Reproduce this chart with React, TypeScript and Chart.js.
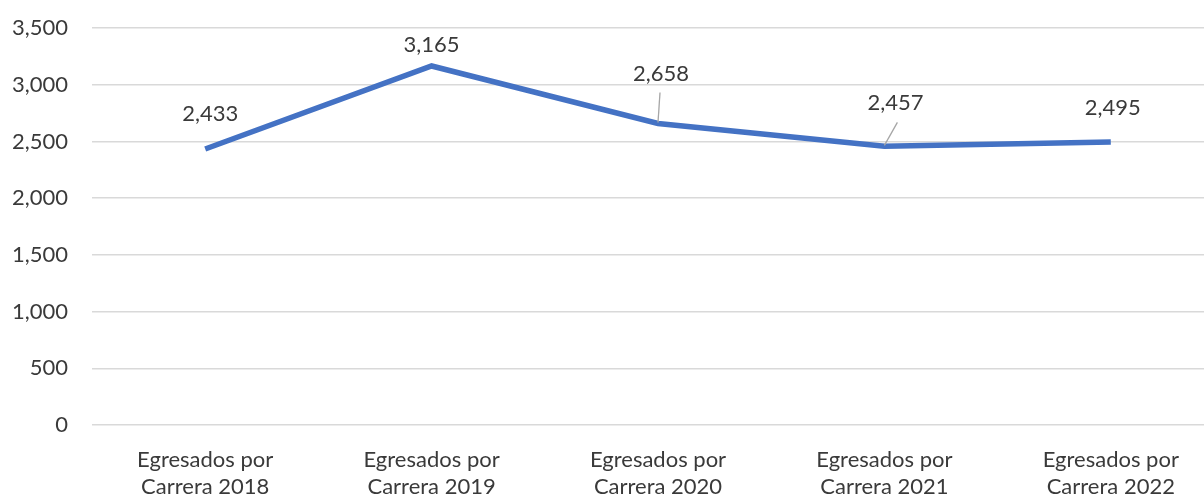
import React, { useEffect, useRef } from "react";
import { Chart, registerables } from "chart.js";

Chart.register(...registerables);

const categories: string[][] = [
  ["Egresados por", "Carrera 2018"],
  ["Egresados por", "Carrera 2019"],
  ["Egresados por", "Carrera 2020"],
  ["Egresados por", "Carrera 2021"],
  ["Egresados por", "Carrera 2022"],
];
const values: number[] = [2433, 3165, 2658, 2457, 2495];
const yTicks: number[] = [0, 500, 1000, 1500, 2000, 2500, 3000, 3500];

// label placement offsets (px) relative to the point, and whether to draw a leader line
const labelDx: number[] = [5, 0, 3, 11, 2];
const labelDy: number[] = [-35, -21, -50, -43, -34];
const leader: boolean[] = [false, false, true, true, false];
const leaderTopDx: number[] = [0, 0, -1, 2, 0];

const FONT = "Lato, 'Liberation Sans', sans-serif";
const FS = 22;
const TEXT = "#3a3a3a";
const CANVAS_W = 1224;

const labelPlugin = {
  id: "pointLabels",
  afterDatasetsDraw(chart: any) {
    const ctx = chart.ctx;
    const meta = chart.getDatasetMeta(0);
    ctx.save();
    ctx.font = `${FS}px ${FONT}`;
    ctx.fillStyle = TEXT;
    ctx.textAlign = "center";
    ctx.textBaseline = "middle";
    meta.data.forEach((pt: any, i: number) => {
      const lx = pt.x + labelDx[i];
      const ly = pt.y + labelDy[i];
      if (leader[i]) {
        ctx.strokeStyle = "#a6a6a6";
        ctx.lineWidth = 1.3;
        ctx.beginPath();
        ctx.moveTo(pt.x, pt.y - 1);
        ctx.lineTo(lx + leaderTopDx[i], ly + 19);
        ctx.stroke();
      }
      ctx.fillText(values[i].toLocaleString("en-US"), lx, ly);
    });
    ctx.restore();
  },
};

export default function App() {
  const ref = useRef<HTMLCanvasElement | null>(null);
  useEffect(() => {
    if (!ref.current) return;
    const chart = new Chart(ref.current, {
      type: "line",
      data: {
        labels: categories,
        datasets: [
          {
            data: values,
            borderColor: "#4472C4",
            borderWidth: 5.5,
            pointRadius: 0,
            tension: 0,
            fill: false,
          },
        ],
      },
      options: {
        responsive: false,
        animation: false,
        layout: { padding: { top: 28, right: 0, left: 0, bottom: 0 } },
        plugins: { legend: { display: false }, tooltip: { enabled: false } },
        scales: {
          x: {
            offset: true,
            grid: { display: false },
            border: { display: false },
            ticks: {
              font: { family: FONT, size: FS, lineHeight: 1.24 },
              color: TEXT,
              maxRotation: 0,
              autoSkip: false,
              padding: 13,
            },
            afterFit(scale: any) {
              scale.height = 71;
              scale.paddingLeft = 0;
              scale.paddingRight = 0;
            },
          },
          y: {
            min: 0,
            max: 3500,
            afterBuildTicks(scale: any) {
              scale.ticks = yTicks.map((v) => ({ value: v }));
            },
            grid: { color: "#d9d9d9", lineWidth: 1.5, drawTicks: false },
            border: { display: false },
            ticks: {
              font: { family: FONT, size: FS },
              color: TEXT,
              padding: 24,
              callback: (v: any) => Number(v).toLocaleString("en-US"),
            },
            afterFit(scale: any) {
              scale.width = 92;
              scale.paddingTop = 0;
              scale.paddingBottom = 0;
            },
          },
        },
      },
      plugins: [labelPlugin],
    });
    return () => chart.destroy();
  }, []);
  return (
    <div
      style={{
        position: "fixed",
        left: 0,
        top: 0,
        width: 1204,
        height: 496,
        overflow: "hidden",
        background: "#fff",
      }}
    >
      <canvas ref={ref} width={CANVAS_W} height={496} style={{ width: CANVAS_W, height: 496, display: "block" }} />
    </div>
  );
}
